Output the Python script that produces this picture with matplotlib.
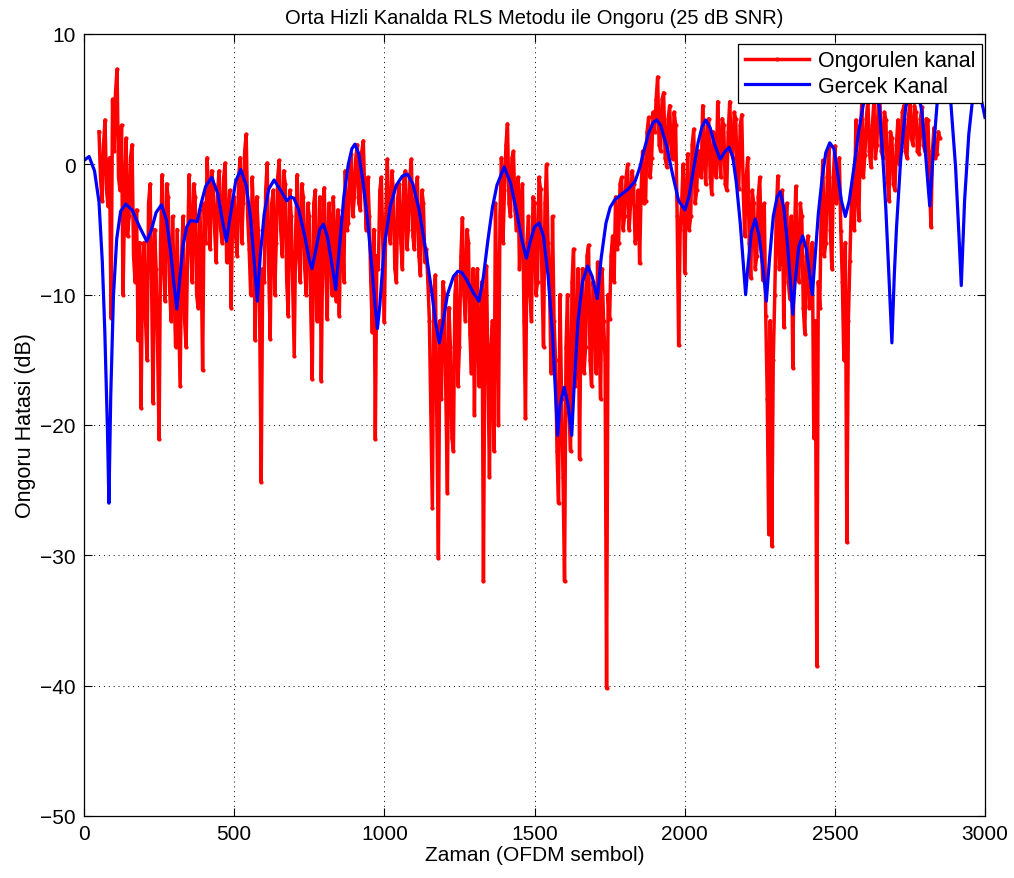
import matplotlib
matplotlib.use("Agg")
import matplotlib.pyplot as plt
import numpy as np

# ---- data -------------------------------------------------------------
# predicted channel (RLS), one sample every 5 OFDM symbols
red_start, red_step = 50, 5
red_db = [
    2.5, -1.0, -2.8, 1.5, 3.4, -2.0, -3.2, 0.5, -11.8, 5.0,
    1.0, 5.5, 7.3, -1.0, -2.0, 3.0, -10.0, -3.0, 2.0, -5.5,
    -4.0, 0.5, 1.5, -7.0, -9.0, -3.5, -13.5, -6.0, -18.7, -8.0,
    -6.0, -12.0, -15.0, -3.0, -1.5, -9.0, -18.3, -5.0, -8.0, -14.0,
    -21.1, -6.0, -0.8, -8.0, -10.5, -1.5, -2.5, -9.5, -12.0, -4.0,
    -9.5, -14.0, -5.0, -11.0, -17.0, -7.0, -4.0, -12.0, -14.0, -6.5,
    -0.8, -6.0, -9.0, -1.5, -2.5, -10.0, -11.0, -3.5, -7.0, -15.8,
    -3.0, -6.0, 0.5, -2.5, -6.5, -0.5, -1.5, -5.0, -7.5, -2.0,
    -0.5, -5.0, -6.0, -1.0, 0.1, -7.5, -4.5, -2.0, -11.0, -3.5,
    -2.5, -5.5, -7.0, -1.0, 0.5, -6.0, -3.0, 1.0, 2.3, -4.0,
    -6.5, -10.0, -1.0, -4.0, -13.5, -2.5, -5.0, -12.0, -24.4, -8.0,
    -9.0, -2.0, 0.1, -8.0, -13.4, -3.0, -2.0, -10.0, -6.0, -1.0,
    0.3, -5.0, -7.0, -0.5, -1.5, -9.0, -11.6, -2.0, -4.0, -9.5,
    -14.7, -5.0, -0.8, -7.0, -9.0, -1.5, -2.5, -8.0, -10.0, -3.0,
    -4.0, -11.0, -16.5, -3.0, -2.0, -12.0, -8.5, -2.5, -16.6, -6.0,
    -1.8, -8.0, -11.9, -3.0, -4.5, -10.0, -2.5, -6.0, -10.5, -3.5,
    -11.6, -5.0, -4.0, -9.0, -0.5, -5.0, -4.5, -1.0, 0.8, -4.0,
    -2.5, 0.5, 1.5, -3.0, -3.5, 1.0, 1.8, -2.5, -5.0, -1.0,
    -4.0, -9.0, -12.9, -5.0, -21.1, -7.0, -8.0, -2.0, -1.0, -6.0,
    -12.1, -4.0, 0.4, -5.0, -6.0, -0.5, -2.0, -8.0, -9.0, -2.5,
    -1.5, -6.0, -8.0, -1.0, -0.5, -6.5, -5.0, -1.0, 0.4, -5.5,
    -6.5, -2.0, -1.0, -7.0, -8.5, -2.0, -3.0, -7.5, -6.5, -9.0,
    -12.0, -19.0, -26.4, -10.0, -8.5, -20.0, -30.2, -12.0, -18.0, -9.0,
    -10.0, -18.0, -25.2, -11.0, -14.0, -21.0, -22.0, -10.0, -8.5, -17.0,
    -14.0, -7.0, -4.1, -10.0, -12.0, -5.0, -6.0, -13.0, -16.0, -8.0,
    -19.2, -10.0, -8.0, -17.0, -15.0, -9.0, -32.0, -12.0, -7.8, -16.0,
    -24.0, -14.0, -12.0, -22.0, -3.0, -11.0, -20.0, -4.0, 0.5, -6.0,
    -2.0, 1.5, 3.1, -3.0, -4.0, 0.5, 1.0, -3.5, -5.0, -1.0,
    -8.0, -3.0, -1.5, -12.0, -19.5, -6.0, -4.0, -10.0, -12.0, -2.5,
    -3.0, -10.0, -9.0, -1.0, -1.9, -9.0, -14.0, -3.0, 0.0, -6.0,
    -9.0, -16.0, -4.0, -12.0, -15.0, -22.0, -26.0, -10.0, -18.0, -24.0,
    -32.0, -14.0, -10.0, -19.0, -22.0, -9.0, -6.5, -17.0, -15.0, -8.0,
    -22.6, -11.0, -8.0, -16.0, -14.0, -7.0, -6.2, -15.0, -17.0, -9.0,
    -10.0, -16.0, -7.5, -13.0, -18.0, -8.0, -12.0, -15.0, -40.2, -10.0,
    -11.9, -7.0, -5.5, -9.0, -2.5, -6.5, -6.0, -1.5, -1.0, -5.0,
    -4.0, -1.0, 0.0, -5.0, -3.0, -0.5, -1.5, -6.0, -5.5, -2.0,
    -7.6, -2.0, 1.0, -3.0, -2.8, 2.5, 3.6, -1.0, 0.5, 4.0,
    2.5, 5.0, 6.7, 1.5, 1.0, 5.0, 5.5, 0.5, -0.2, 3.5,
    4.5, 1.0, 0.4, 4.0, 3.0, -4.0, -13.9, -5.0, -3.0, 0.0,
    -8.3, -3.0, 0.8, -5.0, -4.0, 1.5, 2.7, -3.0, -2.0, 1.0,
    1.0, -1.0, 4.5, 0.5, -1.5, 3.0, 3.5, -1.0, -2.3, 2.5,
    2.0, -1.0, 4.8, 1.0, -1.0, 3.5, 3.0, -1.5, -2.0, 2.5,
    4.8, 1.0, 0.5, 4.0, 3.5, -1.0, -1.9, 3.0, 3.8, -2.0,
    -5.5, -1.0, 0.5, -6.0, -8.7, -2.0, -3.0, -8.0, -7.0, -2.5,
    -1.0, -6.0, -8.9, -3.0, -11.6, -18.0, -28.4, -12.0, -29.3, -15.0,
    -10.0, -4.0, -0.9, -8.0, -7.0, -2.0, -12.5, -5.0, -3.0, -9.0,
    -10.3, -4.0, -15.6, -6.0, -1.7, -8.0, -9.0, -3.0, -4.0, -11.0,
    -13.0, -7.0, -5.5, -11.0, -10.0, -6.0, -21.0, -12.0, -38.5, -9.0,
    -11.0, -3.0, 0.3, -7.0, -6.0, -1.0, 1.3, -5.0, -8.0, -1.0,
    1.4, -3.0, -2.0, 0.5, -5.1, -9.0, -15.0, -6.0, -29.0, -12.0,
    -7.4, -3.0, -1.5, -5.0, 3.4, -2.0, -4.3, 2.0, 4.9, -1.0,
    0.7, 3.5, 5.0, 1.0, -0.2, 3.0, 4.8, 0.5, 1.5, 5.0,
    5.0, 1.0, 0.5, 4.0, 3.4, -1.0, -2.8, 2.5, 2.0, -1.5,
    -2.0, 1.5, 3.4, 0.0, 1.3, 4.0, 4.5, 1.0, 0.5, 3.5,
    4.9, 2.0, 1.5, 4.5, 4.0, 1.0, 0.8, 3.5, 4.4, 1.5,
    1.0, 3.5, 3.4, -1.0, -4.8, 1.0, 2.8, 0.5, 0.8, 2.5,
    2.0,
]

# true channel gain (dB) at the listed symbol indices
blue_x = [
    0, 17, 35, 50, 61, 69, 78, 83, 89, 98, 109, 122, 139, 160, 185, 209,
    225, 240, 258, 275, 290, 300, 309, 318, 330, 342, 355, 377, 390, 405,
    425, 445, 460, 474, 488, 505, 522, 540, 555, 568, 577, 587, 600, 615,
    633, 655, 675, 688, 699, 715, 735, 750, 759, 770, 785, 797, 810, 825,
    838, 850, 865, 880, 892, 902, 915, 930, 945, 958, 970, 977, 985, 1000,
    1020, 1040, 1060, 1077, 1095, 1115, 1135, 1155, 1170, 1183, 1195, 1210,
    1230, 1245, 1258, 1275, 1295, 1315, 1330, 1345, 1360, 1375, 1399, 1420,
    1440, 1458, 1473, 1485, 1500, 1515, 1530, 1545, 1560, 1570, 1577, 1585,
    1599, 1612, 1624, 1632, 1645, 1660, 1677, 1692, 1709, 1722, 1738, 1752,
    1768, 1790, 1812, 1835, 1850, 1865, 1880, 1895, 1907, 1920, 1940, 1960,
    1980, 2001, 2015, 2030, 2045, 2058, 2070, 2085, 2100, 2118, 2135, 2148,
    2160, 2172, 2185, 2195, 2203, 2210, 2222, 2235, 2248, 2262, 2272, 2282,
    2295, 2308, 2318, 2330, 2342, 2352, 2360, 2368, 2380, 2393, 2405, 2416,
    2425, 2433, 2445, 2458, 2470, 2483, 2497, 2510, 2522, 2535, 2548, 2562,
    2578, 2595, 2610, 2622, 2635, 2648, 2660, 2670, 2680, 2690, 2698, 2705,
    2719, 2736, 2752, 2765, 2778, 2790, 2802, 2816, 2828, 2841, 2855, 2870,
    2886, 2902, 2913, 2921, 2932, 2946, 2961, 2972, 2991, 3000,
]
blue_db = [
    0.3, 0.6, -0.5, -2.9, -7.5, -12.6, -20.3, -26.0, -17.8, -10.1, -5.7, -3.6, -3.05, -3.5, -4.8, -5.9,
    -5.0, -3.7, -3.1, -4.3, -7.0, -9.3, -11.1, -9.0, -6.2, -4.8, -4.3, -4.4, -3.0, -1.7,
    -1.0, -2.2, -4.2, -5.9, -3.8, -1.3, -0.4, -1.6, -4.2, -7.8, -10.5, -7.0, -3.8, -1.9,
    -1.2, -2.0, -2.8, -2.5, -2.6, -3.5, -5.5, -7.3, -8.0, -6.8, -5.0, -4.6, -5.5, -7.6,
    -9.6, -6.5, -2.5, 0.0, 1.2, 1.55, 0.8, -1.5, -4.5, -7.8, -11.0, -12.6, -10.8, -6.2,
    -3.2, -1.6, -0.9, -0.75, -1.5, -3.4, -6.2, -9.3, -12.0, -13.7, -12.2, -10.0,
    -8.6, -8.2, -8.3, -8.9, -9.8, -10.5, -8.6, -5.8, -3.3, -1.6, -0.2, -1.4,
    -3.6, -5.8, -7.2, -6.0, -4.8, -4.5, -5.5, -8.5, -13.0, -17.5, -20.8, -18.5,
    -17.1, -18.5, -20.8, -17.0, -12.0, -9.0, -7.8, -8.6, -10.3, -7.2, -4.5, -3.3,
    -2.7, -2.3, -1.9, -1.3, -0.3, 1.1, 2.4, 3.2, 3.4, 3.0, 1.4, -0.8,
    -2.8, -3.5, -2.4, -0.3, 1.7, 2.9, 3.4, 2.8, 1.5, 0.4, 1.0, 1.3,
    0.6, -1.4, -4.5, -7.5, -10.0, -8.0, -5.2, -4.2, -5.5, -8.2, -10.5, -7.4,
    -4.0, -2.5, -2.1, -3.3, -6.0, -9.0, -11.5, -9.0, -6.3, -5.5, -6.5, -8.4,
    -10.0, -7.5, -3.8, -1.0, 0.9, 1.65, 1.2, -0.8, -2.8, -4.0, -2.8, -0.5,
    2.3, 4.6, 6.0, 6.4, 6.0, 4.4, 0.5, -3.5, -8.5, -13.7, -8.5, -5.0,
    0.3, 4.4, 5.8, 6.1, 5.5, 4.0, 0.8, -3.2, 1.0, 4.8, 5.9, 6.5,
    4.8, -0.2, -5.3, -9.3, -2.8, 2.3, 5.5, 6.4, 4.6, 3.6,
]

x_ticks = [0, 500, 1000, 1500, 2000, 2500, 3000]
y_ticks = [-50, -40, -30, -20, -10, 0, 10]

# ---- figure -----------------------------------------------------------
plt.rcParams["font.family"] = ["Liberation Sans", "DejaVu Sans"]

fig = plt.figure(figsize=(10.14, 8.79), dpi=100)
ax = fig.add_axes([84 / 1014, 1 - 817 / 879, 901 / 1014, 782 / 879])

red_x = np.arange(len(red_db)) * red_step + red_start
ax.plot(red_x, red_db, "-", color="red", lw=2.5, marker=".", ms=4,
        label="Ongorulen kanal")
ax.plot(blue_x, blue_db, "-", color="blue", lw=2.3, label="Gercek Kanal")

ax.set_xlim(0, 3000)
ax.set_ylim(-50, 10)
ax.set_xticks(x_ticks)
ax.set_yticks(y_ticks)
ax.grid(True, linestyle=(0, (1, 4)), color="black", lw=0.7)
ax.tick_params(direction="in", top=True, right=True, length=6, width=0.8,
               labelsize=15, pad=6)
for s in ax.spines.values():
    s.set_linewidth(0.9)

ax.set_title("Orta Hizli Kanalda RLS Metodu ile Ongoru (25 dB SNR)",
             fontsize=14.5, pad=8)
ax.set_xlabel("Zaman (OFDM sembol)", fontsize=15, labelpad=1)
ax.set_ylabel("Ongoru Hatasi (dB)", fontsize=15.5, labelpad=3)

leg = ax.legend(loc="upper right", bbox_to_anchor=(0.9967, 0.9872),
                borderaxespad=0, fontsize=15.5, fancybox=False,
                edgecolor="black", framealpha=1, handlelength=3.0,
                handletextpad=0.4, labelspacing=0.2, borderpad=0.3)
leg.get_frame().set_linewidth(0.9)

fig.savefig("out.png", dpi=100)
